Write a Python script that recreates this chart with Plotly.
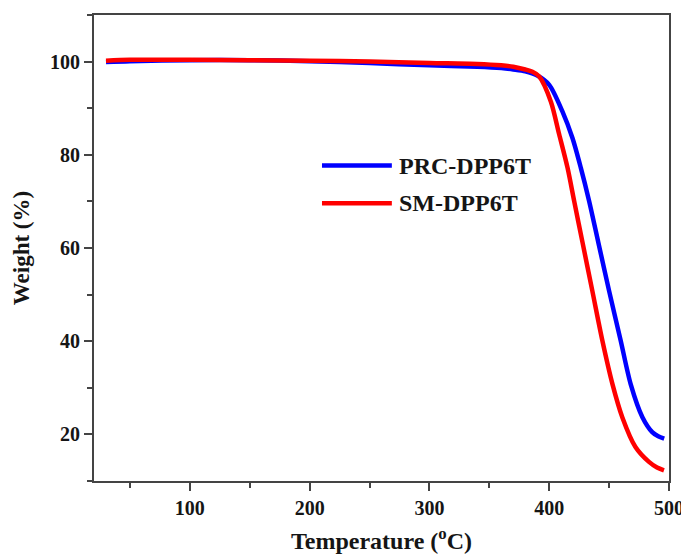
import plotly.graph_objects as go

# Data (TGA curves)
T_prc = [30, 50, 100, 150, 200, 250, 300, 340, 360, 370, 380, 390, 400, 411, 419.4, 426.4, 433.3, 441, 450, 459.7, 468, 477.8, 486, 491, 496]
W_prc = [99.9, 100.1, 100.3, 100.3, 100.1, 99.7, 99.2, 98.9, 98.6, 98.3, 97.9, 97.0, 95.0, 89.3, 83.6, 77.2, 70.1, 61.2, 50.8, 40.1, 30.8, 23.7, 20.5, 19.6, 19.1]

T_sm = [30, 50, 100, 150, 200, 250, 300, 340, 360, 370, 380, 386, 391.7, 401.4, 408.3, 415.3, 420.8, 427.8, 436, 444.4, 452.8, 461, 472, 483.3, 490, 495.8]
W_sm = [100.2, 100.4, 100.4, 100.3, 100.2, 100.0, 99.7, 99.5, 99.2, 98.9, 98.3, 97.8, 96.8, 91.4, 84.4, 77.2, 70.1, 61.2, 50.8, 40.1, 30.8, 23.7, 17.3, 14.1, 12.9, 12.3]

series_names = ["PRC-DPP6T", "SM-DPP6T"]
series_colors = ["#0000ff", "#ff0000"]

x_ticks = [100, 200, 300, 400, 500]
y_ticks = [20, 40, 60, 80, 100]

FONT = "Liberation Serif"
TXT = "#151515"
AX = "#444444"

fig = go.Figure()
for T, W, name, col in [(T_prc, W_prc, series_names[0], series_colors[0]),
                        (T_sm, W_sm, series_names[1], series_colors[1])]:
    fig.add_trace(go.Scatter(x=T, y=W, mode="lines", name=name,
                             line=dict(color=col, width=4.5, shape="spline", smoothing=0.8),
                             showlegend=False))

# Manual legend (long line samples like the reference)
leg_y = [0.677, 0.596]
for i, (name, col) in enumerate(zip(series_names, series_colors)):
    fig.add_shape(type="line", xref="paper", yref="paper",
                  x0=0.3965, x1=0.518, y0=leg_y[i], y1=leg_y[i],
                  line=dict(color=col, width=4.5))
    fig.add_annotation(xref="paper", yref="paper", x=0.527, y=leg_y[i],
                       text="<b>%s</b>" % name, showarrow=False, xanchor="left",
                       yanchor="middle", font=dict(family=FONT, size=24, color=TXT))

axis_common = dict(showline=True, linecolor=AX, linewidth=2, mirror=True,
                   ticks="outside", ticklen=8, tickwidth=2, tickcolor=AX,
                   showgrid=False, zeroline=False,
                   tickfont=dict(family=FONT, size=20, color=TXT))

fig.update_xaxes(range=[20, 500], tickvals=x_ticks, ticktext=["<b>%d</b>" % v for v in x_ticks],
                 minor=dict(ticks="outside", ticklen=5, tickwidth=2, tickcolor=AX, dtick=50, tick0=0),
                 title=dict(text="<b>Temperature (<sup>o</sup>C)</b>", font=dict(family=FONT, size=24, color=TXT), standoff=14),
                 **axis_common)
fig.update_yaxes(range=[10, 110], tickvals=y_ticks, ticktext=["<b>%d</b>" % v for v in y_ticks],
                 minor=dict(ticks="outside", ticklen=5, tickwidth=2, tickcolor=AX, dtick=10, tick0=0),
                 title=dict(text="<b>Weight (%)</b>", font=dict(family=FONT, size=23, color=TXT), standoff=14),
                 **axis_common)

# The page body adds an 8px offset, so the figure is sized/margined to compensate
fig.update_layout(width=681, height=547, margin=dict(l=86, r=20, t=5, b=74),
                  plot_bgcolor="white", paper_bgcolor="white")

fig.write_html("out.html")
